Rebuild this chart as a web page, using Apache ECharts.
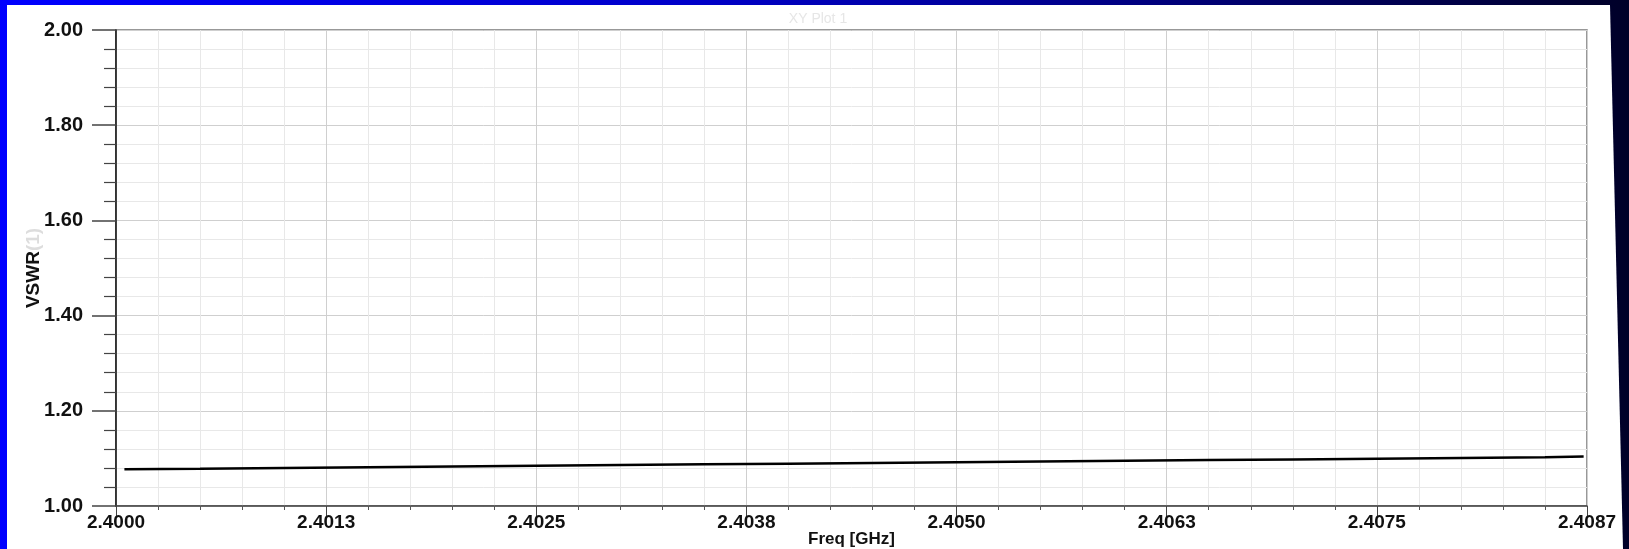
<!DOCTYPE html>
<html>
<head>
<meta charset="utf-8">
<script src="https://cdn.jsdelivr.net/npm/echarts@6/dist/echarts.min.js"></script>
<style>
html,body{margin:0;padding:0;background:#fff;}
#chart{width:1629px;height:549px;}
</style>
</head>
<body>
<div id="chart"></div>
<script>
// ---- data ----
const freqGHz = [2.40005, 2.4005, 2.4010, 2.4015, 2.4020, 2.4025, 2.4030, 2.4035, 2.4040, 2.4045,
                 2.4050, 2.4055, 2.4060, 2.4065, 2.4070, 2.4075, 2.4080, 2.4085, 2.40873];
const vswr = [1.0772, 1.0782, 1.0797, 1.0813, 1.0829, 1.0844, 1.0860, 1.0875, 1.0890, 1.0905,
              1.0920, 1.0935, 1.0950, 1.0964, 1.0979, 1.0994, 1.1009, 1.1025, 1.1040];
const xTickLabels = ["2.4000", "2.4013", "2.4025", "2.4038", "2.4050", "2.4063", "2.4075", "2.4087"];
const yTickLabels = ["1.00", "1.20", "1.40", "1.60", "1.80", "2.00"];
const xMin = 2.4, xStep = 0.00125, xMax = 2.40875;
const yMin = 1.0, yStep = 0.2, yMax = 2.0;
const titleText = "XY Plot 1";
const xName = "Freq [GHz]";

const points = freqGHz.map((f, i) => [f, vswr[i]]);
const chart = echarts.init(document.getElementById('chart'), null, {renderer: 'canvas'});
const FONT = '"Liberation Sans", Arial, sans-serif';

chart.setOption({
  animation: false,
  backgroundColor: '#ffffff',
  graphic: [
    {type: 'rect', z: -10, silent: true, shape: {x: 0, y: 0, width: 1629, height: 549},
     style: {fill: new echarts.graphic.LinearGradient(0, 0, 1, 0, [
       {offset: 0, color: '#0000ff'}, {offset: 0.43, color: '#0000c8'},
       {offset: 0.61, color: '#00009a'}, {offset: 0.86, color: '#000050'},
       {offset: 1, color: '#000028'}])}},
    {type: 'polygon', z: -9, silent: true,
     shape: {points: [[7, 5], [1610, 5], [1623, 549], [7, 549]]},
     style: {fill: '#ffffff'}}
  ],
  title: {
    text: titleText, left: 813, top: 7, textAlign: 'center',
    textStyle: {color: '#e6e6e6', fontSize: 14, fontWeight: 'normal', fontFamily: FONT}
  },
  grid: {left: 116, right: 42, top: 30, bottom: 43, show: true,
         containLabel: false, outerBoundsMode: 'none',
         borderColor: '#777', borderWidth: 1.5, backgroundColor: 'transparent'},
  xAxis: {
    type: 'value', min: xMin, max: xMax, interval: xStep,
    name: xName, nameLocation: 'middle', nameGap: 25, nameMoveOverlap: false,
    nameTextStyle: {color: '#111', fontSize: 17, fontWeight: 'bold', fontFamily: FONT},
    axisLine: {show: true, onZero: false, lineStyle: {color: '#444', width: 1.5}},
    axisTick: {show: true, length: 11, lineStyle: {color: '#444', width: 1}},
    minorTick: {show: true, splitNumber: 5, length: 4, lineStyle: {color: '#555', width: 1}},
    axisLabel: {
      margin: 7, color: '#111', fontSize: 19, fontWeight: 'bold', fontFamily: FONT,
      formatter: v => xTickLabels[Math.round((v - xMin) / xStep)] || ''
    },
    splitLine: {show: true, lineStyle: {color: '#cfcfcf', width: 1}},
    minorSplitLine: {show: true, lineStyle: {color: '#e8e8e8', width: 1}}
  },
  yAxis: {
    type: 'value', min: yMin, max: yMax, interval: yStep,
    name: '{a|VSWR}{b|(1)}', nameLocation: 'middle', nameGap: 73, nameRotate: 90,
    nameMoveOverlap: false,
    nameTextStyle: {
      rich: {
        a: {color: '#111', fontSize: 19, fontWeight: 'bold', fontFamily: FONT},
        b: {color: '#dddddd', fontSize: 19, fontWeight: 'bold', fontFamily: FONT}
      }
    },
    axisLine: {show: true, lineStyle: {color: '#111', width: 1.5}},
    axisTick: {show: true, length: 24, lineStyle: {color: '#444', width: 1.5}},
    minorTick: {show: true, splitNumber: 5, length: 12, lineStyle: {color: '#444', width: 1.2}},
    axisLabel: {
      margin: 33, color: '#111', fontSize: 20, fontWeight: 'bold', fontFamily: FONT,
      formatter: v => yTickLabels[Math.round((v - yMin) / yStep)] || ''
    },
    splitLine: {show: true, lineStyle: {color: '#cfcfcf', width: 1}},
    minorSplitLine: {show: true, lineStyle: {color: '#e8e8e8', width: 1}}
  },
  series: [{
    type: 'line', data: points, showSymbol: false, symbol: 'none',
    lineStyle: {color: '#000', width: 2.5}, z: 5
  }]
});
</script>
</body>
</html>
